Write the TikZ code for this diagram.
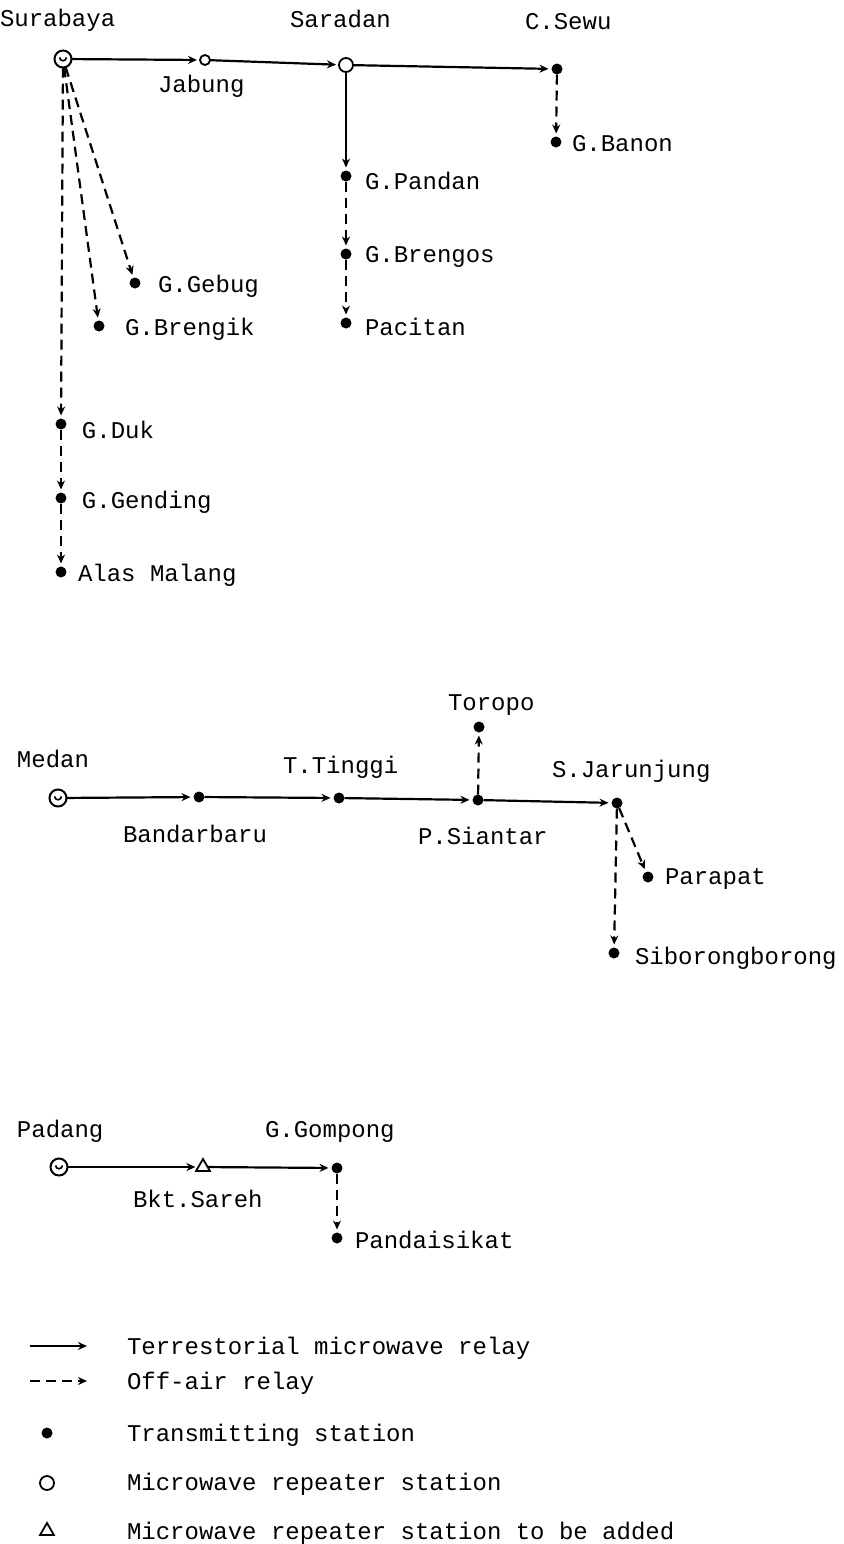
\documentclass[tikz,border=0pt]{standalone}
\usepackage{fontspec}
\newfontfamily\monof{Liberation Mono}
\usetikzlibrary{arrows.meta,shapes.geometric}
\begin{document}
\begin{tikzpicture}[x=0.5pt,y=-0.5pt,
 every node/.style={inner sep=0pt, outer sep=0pt},
 lbl/.style={anchor=base west, font=\monof\fontsize{12}{14}\selectfont},
 tx/.style={circle, fill=black, minimum size=5.5pt},
 rep/.style={circle, draw=black, line width=0.9pt, fill=white, minimum size=7pt},
 srep/.style={circle, draw, line width=0.9pt, fill=white, minimum size=5pt},
 studio/.style={circle, draw, line width=1pt, minimum size=8.5pt,
   path picture={\draw[line width=0.8pt] ([xshift=-1.7pt,yshift=0.8pt]path picture bounding box.center) arc[start angle=180,end angle=360,radius=1.7pt];}},
 tri/.style={regular polygon, regular polygon sides=3, draw, line width=0.9pt, minimum size=8pt},
 mw/.style={line width=1.1pt, -{Stealth[length=4.5pt,width=4pt]}, shorten >=1.5pt},
 oa/.style={mw, dash pattern=on 5pt off 3pt},
]
\useasboundingbox (0,0) rectangle (843,1544);

% ---------- Surabaya network ----------
\node[studio] (sur) at (63,59) {};
\node[srep] (jab) at (205,60) {};
\node[rep] (sar) at (346,65) {};
\node[tx] (csw) at (557,69) {};
\node[tx] (gba) at (556,142) {};
\node[tx] (gpa) at (346,176) {};
\node[tx] (gbr) at (346,254) {};
\node[tx] (pac) at (346,323) {};
\node[tx] (geb) at (135,283) {};
\node[tx] (gbk) at (99,326) {};
\node[tx] (gdu) at (61,424) {};
\node[tx] (gge) at (61,498) {};
\node[tx] (ala) at (61,572) {};

\node[lbl] (lsur) at (0,26) {Surabaya};
\node[lbl] (ljab) at (158,92) {Jabung};
\node[lbl] (lsar) at (290,27) {Saradan};
\node[lbl] (lcsw) at (525,29) {C.Sewu};
\node[lbl] (lgba) at (572,151) {G.Banon};
\node[lbl] (lgpa) at (365,189) {G.Pandan};
\node[lbl] (lgbr) at (365,262) {G.Brengos};
\node[lbl] (lpac) at (365,335) {Pacitan};
\node[lbl] (lgeb) at (158,292) {G.Gebug};
\node[lbl] (lgbk) at (125,335) {G.Brengik};
\node[lbl] (lgdu) at (82,438) {G.Duk};
\node[lbl] (lgge) at (82,508) {G.Gending};
\node[lbl] (lala) at (78,581) {Alas Malang};

\draw[mw] (sur) -- (jab);
\draw[mw] (jab) -- (sar);
\draw[mw] (sar) -- (csw);
\draw[oa] (csw) -- (gba);
\draw[mw] (sar) -- (gpa);
\draw[oa] (gpa) -- (gbr);
\draw[oa] (gbr) -- (pac);
\draw[oa] (sur) -- (geb);
\draw[oa] (sur) -- (gbk);
\draw[oa] (sur) -- (gdu);
\draw[oa] (gdu) -- (gge);
\draw[oa] (gge) -- (ala);

% ---------- Medan network ----------
\node[studio] (med) at (58,798) {};
\node[tx] (ban) at (199,797) {};
\node[tx] (tti) at (339,798) {};
\node[tx] (psi) at (478,800) {};
\node[tx] (tor) at (479,727) {};
\node[tx] (sja) at (617,803) {};
\node[tx] (par) at (648,877) {};
\node[tx] (sib) at (614,953) {};

\node[lbl] (lmed) at (17,767) {Medan};
\node[lbl] (lban) at (123,842) {Bandarbaru};
\node[lbl] (ltti) at (283,773) {T.Tinggi};
\node[lbl] (lpsi) at (418,844) {P.Siantar};
\node[lbl] (ltor) at (448,710) {Toropo};
\node[lbl] (lsja) at (552,777) {S.Jarunjung};
\node[lbl] (lpar) at (665,884) {Parapat};
\node[lbl] (lsib) at (635,964) {Siborongborong};

\draw[mw] (med) -- (ban);
\draw[mw] (ban) -- (tti);
\draw[mw] (tti) -- (psi);
\draw[oa] (psi) -- (tor);
\draw[mw] (psi) -- (sja);
\draw[oa] (sja) -- (par);
\draw[oa] (sja) -- (sib);

% ---------- Padang network ----------
\node[studio] (pad) at (59,1167) {};
\node[tri] (bkt) at (203,1167) {};
\node[tx] (ggo) at (337,1168) {};
\node[tx] (pds) at (337,1238) {};

\node[lbl] (lpad) at (17,1137) {Padang};
\node[lbl] (lggo) at (265,1137) {G.Gompong};
\node[lbl] (lbkt) at (133,1207) {Bkt.Sareh};
\node[lbl] (lpds) at (355,1248) {Pandaisikat};

\draw[mw] (pad) -- (bkt);
\draw[mw] (bkt) -- (ggo);
\draw[oa] (ggo) -- (pds);

% ---------- Legend ----------
\coordinate (k1a) at (30,1346);
\coordinate (k1b) at (87,1346);
\coordinate (k2a) at (30,1381);
\coordinate (k2b) at (87,1381);
\draw[mw, shorten >=0pt] (k1a) -- (k1b);
\draw[oa, shorten >=0pt] (k2a) -- (k2b);
\node[tx] (k3) at (47,1433) {};
\node[rep] (k4) at (47,1483) {};
\node[tri] (k5) at (47,1531) {};

\node[lbl] (t1) at (127,1354) {Terrestorial microwave relay};
\node[lbl] (t2) at (127,1389) {Off-air relay};
\node[lbl] (t3) at (127,1441) {Transmitting station};
\node[lbl] (t4) at (127,1490) {Microwave repeater station};
\node[lbl] (t5) at (127,1539) {Microwave repeater station to be added};
\end{tikzpicture}
\end{document}
